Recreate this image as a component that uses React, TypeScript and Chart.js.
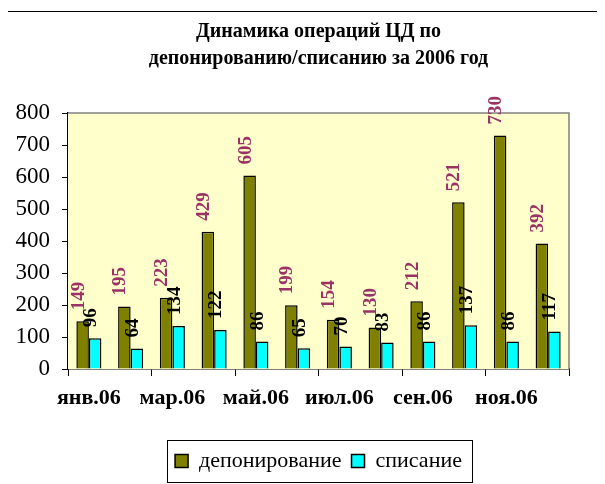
import React, { useEffect, useRef } from 'react';
import { Chart, registerables } from 'chart.js';

Chart.register(...registerables);

const months = ['янв.06', 'фев.06', 'мар.06', 'апр.06', 'май.06', 'июн.06', 'июл.06', 'авг.06', 'сен.06', 'окт.06', 'ноя.06', 'дек.06'];
const deposit = [149, 195, 223, 429, 605, 199, 154, 130, 212, 521, 730, 392];
const writeoff = [96, 64, 134, 122, 86, 65, 70, 83, 86, 137, 86, 117];
const seriesNames = ['депонирование', 'списание'];
const titleLines = ['Динамика операций ЦД по', 'депонированию/списанию за 2006 год'];
const yMin = 0;
const yMax = 800;
const yStep = 100;

const FONT = "'Liberation Serif', 'Times New Roman', serif";

const plotBg = {
  id: 'plotBg',
  beforeDatasetsDraw(chart: any) {
    const { ctx, chartArea: a } = chart;
    ctx.save();
    ctx.fillStyle = '#FFFFCC';
    ctx.fillRect(a.left, a.top, a.right - a.left, a.bottom - a.top);
    ctx.strokeStyle = '#808080';
    ctx.lineWidth = 1.5;
    ctx.beginPath();
    ctx.moveTo(a.left, a.top);
    ctx.lineTo(a.right, a.top);
    ctx.lineTo(a.right, a.bottom);
    ctx.stroke();
    ctx.restore();
  },
};

const valueLabels = {
  id: 'valueLabels',
  afterDatasetsDraw(chart: any) {
    const { ctx } = chart;
    const colors = ['#993366', '#000000'];
    chart.data.datasets.forEach((ds: any, di: number) => {
      const meta = chart.getDatasetMeta(di);
      meta.data.forEach((bar: any, i: number) => {
        ctx.save();
        ctx.translate(bar.x - 4, bar.y - 11);
        ctx.rotate(-Math.PI / 2);
        ctx.font = `bold 19px ${FONT}`;
        ctx.fillStyle = colors[di];
        ctx.textAlign = 'left';
        ctx.textBaseline = 'middle';
        ctx.fillText(String(ds.data[i]), 0, 0);
        ctx.restore();
      });
    });
  },
};

const legendFrame = {
  id: 'legendFrame',
  afterDraw(chart: any) {
    const lg = chart.legend;
    if (!lg || !lg.legendHitBoxes || !lg.legendHitBoxes.length) return;
    const boxes = lg.legendHitBoxes;
    const minX = Math.min(...boxes.map((b: any) => b.left));
    const maxX = Math.max(...boxes.map((b: any) => b.left + b.width));
    const cy = boxes[0].top + boxes[0].height / 2;
    const { ctx } = chart;
    ctx.save();
    ctx.strokeStyle = '#000';
    ctx.lineWidth = 1;
    ctx.strokeRect(Math.round(minX - 8) + 0.5, Math.round(cy - 21) + 0.5, Math.round(maxX - minX + 18), 42);
    ctx.restore();
  },
};

export default function App() {
  const ref = useRef<HTMLCanvasElement>(null);
  useEffect(() => {
    if (!ref.current) return;
    const chart = new Chart(ref.current, {
      type: 'bar',
      data: {
        labels: months,
        datasets: [
          {
            label: seriesNames[0],
            data: deposit,
            backgroundColor: '#808000',
            borderColor: '#000',
            borderWidth: 1.5,
            categoryPercentage: 0.6,
            barPercentage: 1,
          },
          {
            label: seriesNames[1],
            data: writeoff,
            backgroundColor: '#00FFFF',
            borderColor: '#000',
            borderWidth: 1.5,
            categoryPercentage: 0.6,
            barPercentage: 1,
          },
        ],
      },
      options: {
        responsive: false,
        animation: false,
        devicePixelRatio: 1,
        layout: { padding: { left: 0, right: 28, top: 0, bottom: 6 } },
        plugins: {
          title: {
            display: true,
            fullSize: false,
            text: titleLines,
            color: '#000',
            font: { family: FONT, size: 20, weight: 'bold', lineHeight: 1.35 },
            padding: { top: 6, bottom: 41 },
          },
          legend: {
            display: true,
            position: 'bottom',
            fullSize: false,
            labels: {
              color: '#000',
              font: { family: FONT, size: 22 },
              boxWidth: 13,
              boxHeight: 13,
              padding: 10,
            },
          },
          tooltip: { enabled: false },
        },
        scales: {
          x: {
            afterFit(scale: any) {
              scale.height = 71;
            },
            grid: {
              display: true,
              drawOnChartArea: false,
              drawTicks: true,
              tickLength: 7,
              offset: true,
              tickColor: (c: any) => (c.index === undefined || c.index % 2 === 0 ? '#000' : 'rgba(0,0,0,0)'),
            },
            border: { color: '#000', width: 1.5 },
            ticks: {
              autoSkip: false,
              maxRotation: 0,
              minRotation: 0,
              padding: 9,
              color: '#000',
              font: { family: FONT, size: 22, weight: 'bold' },
              callback: (_v: any, i: number) => (i % 2 === 0 ? months[i] : ''),
            },
          },
          y: {
            min: yMin,
            max: yMax,
            afterFit(scale: any) {
              scale.width = 60;
            },
            grid: {
              display: true,
              drawOnChartArea: false,
              drawTicks: true,
              tickLength: 6,
              tickColor: '#000',
            },
            border: { color: '#000', width: 1.5 },
            ticks: {
              stepSize: yStep,
              padding: 12,
              color: '#000',
              font: { family: FONT, size: 23 },
            },
          },
        },
      },
      plugins: [plotBg, valueLabels, legendFrame],
    });
    return () => chart.destroy();
  }, []);

  return (
    <div style={{ position: 'relative', top: 3, left: -1, width: 589, height: 476, border: '1px solid #000', background: '#fff' }}>
      <canvas ref={ref} width={589} height={476} style={{ display: 'block', width: 589, height: 476 }} />
    </div>
  );
}
